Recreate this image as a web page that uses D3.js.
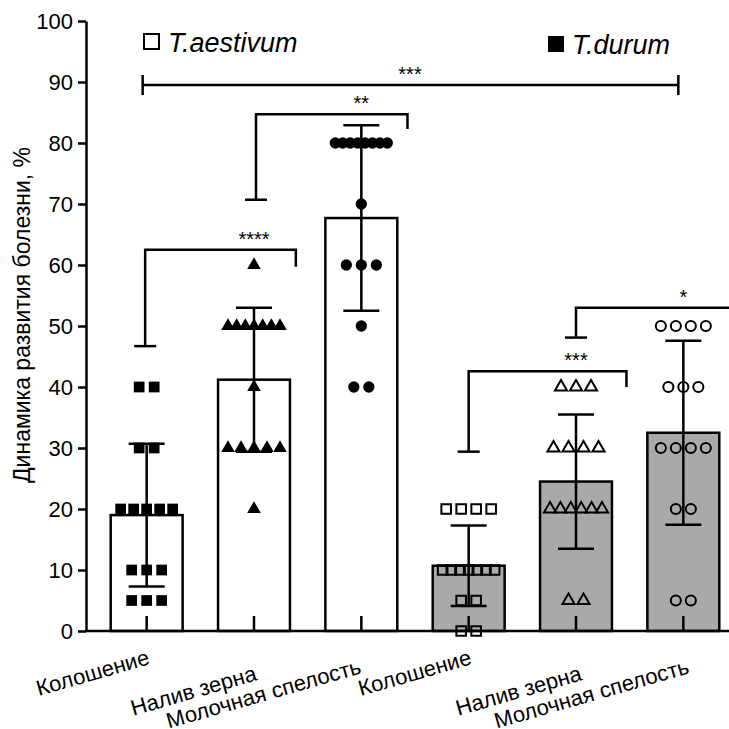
<!DOCTYPE html>
<head>
    <meta charset='utf-8'>
    <title>Динамика развития болезни</title>
    <script src='https://d3js.org/d3.v7.min.js'></script>
    <style>
        html, body {
            margin: 0px;
            padding: 0px;
            background: white;
        }
        svg text {
            font-family: 'Liberation Sans', Arial, sans-serif;
            fill: #000;
        }
    </style>
</head>
<body>
    <div id='chart'></div>
    <script>
        // stages, repeated for both species
        var stages = ['Колошение', 'Налив зерна', 'Молочная спелость',
                      'Колошение', 'Налив зерна', 'Молочная спелость'];
        var species = ['T.aestivum', 'T.durum'];
        var groupSpecies = [0, 0, 0, 1, 1, 1];

        var means = [19.0, 41.2, 67.7, 10.7, 24.5, 32.5];
        var sds = [11.7, 11.8, 15.2, 6.6, 11.0, 15.1];

        // individual observations per bar
        var points1 = [40, 40, 30, 30, 20, 20, 20, 20, 20, 10, 10, 10, 5, 5, 5];
        var points2 = [60, 50, 50, 50, 50, 50, 50, 50, 40, 30, 30, 30, 30, 30, 20];
        var points3 = [80, 80, 80, 80, 80, 80, 80, 80, 70, 60, 60, 60, 50, 40, 40];
        var points4 = [20, 20, 20, 20, 10, 10, 10, 10, 10, 10, 10, 5, 5, 0, 0];
        var points5 = [40, 40, 40, 30, 30, 30, 30, 20, 20, 20, 20, 20, 20, 5, 5];
        var points6 = [50, 50, 50, 50, 40, 40, 40, 30, 30, 30, 30, 20, 20, 5, 5];
        var allPoints = [points1, points2, points3, points4, points5, points6];

        var yTicks = [0, 10, 20, 30, 40, 50, 60, 70, 80, 90, 100];

        // significance: bar index (left, right), bracket level, leg ends (%), label
        var sigLeft = [0, 1, 3, 4];
        var sigRight = [1, 2, 4, 5];
        var sigTop = [62.5, 84.7, 42.6, 53.0];
        var sigLeftEnd = [46.7, 70.7, 29.4, 48.1];
        var sigRightEnd = [59.7, 82.3, 40.0, 53.0];
        var sigLabels = ['****', '**', '***', '*'];
        var overallLabel = '***';
        var overallLevel = 89.5;

        var W = 729, H = 729;
        var svg = d3.select('#chart').append('svg')
            .attr('width', W)
            .attr('height', H);

        var axisX = 86;
        var x = d3.scaleBand()
            .domain(d3.range(stages.length))
            .range([93, 737])
            .paddingInner(0.33)
            .paddingOuter(0.165);
        var y = d3.scaleLinear().domain([0, 100]).range([631, 21]);

        function cx(i) { return x(0) + x.bandwidth() / 2 + i * x.step(); }

        var fills = ['#ffffff', '#a9a9a9'];
        var shapes = [d3.symbolSquare, d3.symbolTriangle, d3.symbolCircle];
        var sizes = [115, 80, 100];

        // bars
        svg.selectAll('rect.bar')
            .data(means)
            .enter()
            .append('rect')
            .attr('class', 'bar')
            .attr('x', function(d, i) { return x(i); })
            .attr('y', function(d) { return y(d); })
            .attr('width', x.bandwidth())
            .attr('height', function(d) { return y(0) - y(d); })
            .attr('fill', function(d, i) { return fills[groupSpecies[i]]; })
            .attr('stroke', '#000')
            .attr('stroke-width', 2.5);

        // scatter points, spread sideways where values repeat
        allPoints.forEach(function(vals, i) {
            var counts = d3.rollup(vals, function(v) { return v.length; }, function(d) { return d; });
            var seen = new Map();
            var filled = groupSpecies[i] === 0;
            var sym = d3.symbol().type(shapes[i % 3]).size(filled ? sizes[i % 3] : sizes[i % 3] * 0.8);
            vals.forEach(function(v) {
                var k = counts.get(v);
                var j = seen.get(v) || 0;
                seen.set(v, j + 1);
                var s = k > 1 ? Math.min(15, 52 / (k - 1)) : 0;
                var px = cx(i) + (j - (k - 1) / 2) * s;
                svg.append('path')
                    .attr('d', sym)
                    .attr('transform', 'translate(' + px + ',' + y(v) + ')')
                    .attr('fill', filled ? '#000' : 'none')
                    .attr('stroke', filled ? 'none' : '#000')
                    .attr('stroke-width', 2);
            });
        });

        // error bars (mean ± SD)
        var eb = svg.append('g')
            .attr('stroke', '#000')
            .attr('stroke-width', 2.5);
        means.forEach(function(m, i) {
            var lo = y(m - sds[i]), hi = y(m + sds[i]), c = cx(i);
            eb.append('line').attr('x1', c).attr('x2', c).attr('y1', lo).attr('y2', hi);
            eb.append('line').attr('x1', c - 18).attr('x2', c + 18).attr('y1', lo).attr('y2', lo);
            eb.append('line').attr('x1', c - 18).attr('x2', c + 18).attr('y1', hi).attr('y2', hi);
        });

        // y axis
        var yAxis = svg.append('g')
            .attr('transform', 'translate(' + axisX + ',0)')
            .call(d3.axisLeft(y).tickValues(yTicks).tickSize(8).tickPadding(5).tickSizeOuter(0));
        yAxis.select('.domain').attr('stroke-width', 2.5);
        yAxis.selectAll('.tick line').attr('stroke-width', 2.5);
        yAxis.selectAll('.tick text')
            .style('font-size', '22px')
            .attr('dy', '0.36em');

        // x axis: baseline + inward ticks at bar centres
        svg.append('line')
            .attr('x1', axisX - 1).attr('x2', W)
            .attr('y1', y(0)).attr('y2', y(0))
            .attr('stroke', '#000').attr('stroke-width', 2.5);
        svg.selectAll('line.xtick')
            .data(stages)
            .enter()
            .append('line')
            .attr('class', 'xtick')
            .attr('x1', function(d, i) { return cx(i); })
            .attr('x2', function(d, i) { return cx(i); })
            .attr('y1', y(0))
            .attr('y2', y(0) - 15)
            .attr('stroke', '#000')
            .attr('stroke-width', 2.5);

        var labelDx = [4, 4, 1, 4, 7, 7];
        var labelDy = [33, 49, 42, 33, 49, 42];
        svg.selectAll('text.xlab')
            .data(stages)
            .enter()
            .append('text')
            .attr('class', 'xlab')
            .attr('text-anchor', 'end')
            .attr('transform', function(d, i) {
                return 'translate(' + (cx(i) + labelDx[i]) + ',' + (y(0) + labelDy[i]) + ') rotate(-16)';
            })
            .style('font-size', '22px')
            .text(function(d) { return d; });

        // y title
        svg.append('text')
            .attr('transform', 'translate(30,315) rotate(-90)')
            .attr('text-anchor', 'middle')
            .style('font-size', '23px')
            .text('Динамика развития болезни, %');

        // legend
        svg.append('rect')
            .attr('x', 144).attr('y', 34).attr('width', 15).attr('height', 15)
            .attr('fill', 'none').attr('stroke', '#000').attr('stroke-width', 2);
        svg.append('text')
            .attr('x', 168).attr('y', 52)
            .style('font-size', '27px').style('font-style', 'italic')
            .text(species[0]);
        svg.append('rect')
            .attr('x', 548).attr('y', 36).attr('width', 16).attr('height', 16)
            .attr('fill', '#000');
        svg.append('text')
            .attr('x', 572).attr('y', 54)
            .style('font-size', '27px').style('font-style', 'italic')
            .text(species[1]);

        // significance brackets
        var br = svg.append('g')
            .attr('stroke', '#000')
            .attr('stroke-width', 2.5)
            .attr('fill', 'none');
        var rightX = [cx(1) + 0.39 * x.step(), cx(2) + 0.43 * x.step(), cx(4) + 0.47 * x.step(), W + 10];
        var labelX = [cx(1), cx(2), cx(4), cx(5)];
        sigLabels.forEach(function(lab, k) {
            var lx = cx(sigLeft[k]) + (k === 0 ? -1.5 : (k === 1 ? 2 : 0));
            var rx = rightX[k];
            br.append('path')
                .attr('d', 'M' + lx + ',' + y(sigLeftEnd[k]) +
                           'V' + y(sigTop[k]) + 'H' + rx + 'V' + y(sigRightEnd[k]));
            br.append('line')
                .attr('x1', lx - 11).attr('x2', lx + 11)
                .attr('y1', y(sigLeftEnd[k])).attr('y2', y(sigLeftEnd[k]));
            svg.append('text')
                .attr('x', labelX[k])
                .attr('y', y(sigTop[k]) - 4)
                .attr('text-anchor', 'middle')
                .style('font-size', '20px')
                .text(lab);
        });

        // overall T.aestivum vs T.durum
        var ox1 = cx(0) - 4, ox2 = cx(5) - 5, oy = y(overallLevel);
        br.append('line').attr('x1', ox1).attr('x2', ox2).attr('y1', oy).attr('y2', oy);
        br.append('line').attr('x1', ox1).attr('x2', ox1).attr('y1', oy - 10).attr('y2', oy + 10);
        br.append('line').attr('x1', ox2).attr('x2', ox2).attr('y1', oy - 10).attr('y2', oy + 10);
        svg.append('text')
            .attr('x', (cx(2) + cx(3)) / 2 - 5)
            .attr('y', oy - 4)
            .attr('text-anchor', 'middle')
            .style('font-size', '20px')
            .text(overallLabel);
    </script>
</body>
